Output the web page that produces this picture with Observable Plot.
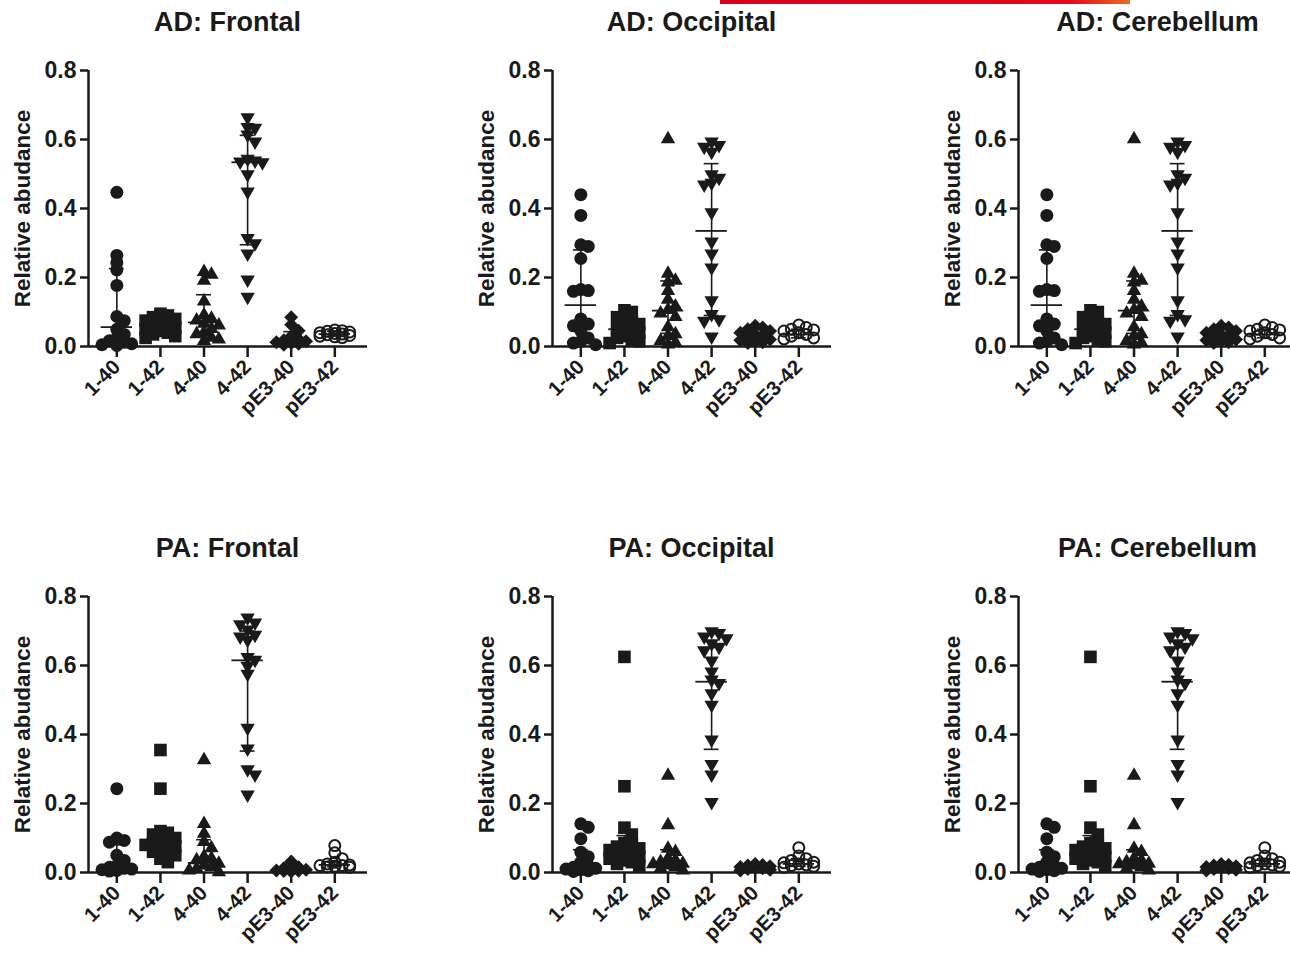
<!DOCTYPE html>
<html>
<head>
<meta charset="utf-8">
<script src="https://cdn.jsdelivr.net/npm/d3@7"></script>
<script src="https://cdn.jsdelivr.net/npm/@observablehq/plot@0.6"></script>
<style>
  html, body { margin: 0; padding: 0; background: #fff; }
  #page { position: relative; width: 1290px; height: 955px; overflow: hidden; background: #fff; font-family: "Liberation Sans", Arial, sans-serif; }
  .title { position: absolute; text-align: center; font-weight: bold; font-size: 27px; line-height: 30px; color: #1a1a1a; }
  .panel { position: absolute; width: 430px; height: 390px; }
  .panel svg { max-width: none !important; overflow: visible; }
  .panel svg text { font-weight: bold; }
  #bar { position: absolute; left: 720px; top: 0; width: 410px; height: 4px; background: linear-gradient(to right, #d8001c 0%, #e3081a 85%, #f06a1e 100%); }
</style>
</head>
<body>
<div id="page"><div id="bar"></div></div>
<script>
// ---------- data ----------
const cats = ["1-40", "1-42", "4-40", "4-42", "pE3-40", "pE3-42"];
const yTicks = [0, 0.2, 0.4, 0.6, 0.8];
const titles = ["AD: Frontal", "AD: Occipital", "AD: Cerebellum", "PA: Frontal", "PA: Occipital", "PA: Cerebellum"];
const yLabel = "Relative abudance";

// AD Frontal
const adFrontal = [
  [0.447, 0.264, 0.243, 0.222, 0.177, 0.087, 0.075, 0.05, 0.035, 0.025, 0.017, 0.012, 0.008, 0.005, 0.003],
  [0.095, 0.09, 0.085, 0.08, 0.075, 0.07, 0.065, 0.06, 0.055, 0.05, 0.045, 0.04, 0.035, 0.03, 0.025],
  [0.22, 0.212, 0.195, 0.135, 0.095, 0.085, 0.08, 0.07, 0.065, 0.055, 0.045, 0.04, 0.03, 0.025, 0.02],
  [0.66, 0.632, 0.63, 0.61, 0.59, 0.54, 0.535, 0.532, 0.53, 0.495, 0.445, 0.31, 0.295, 0.265, 0.19, 0.14],
  [0.085, 0.063, 0.046, 0.03, 0.022, 0.018, 0.015, 0.012, 0.01, 0.008, 0.005],
  [0.048, 0.046, 0.044, 0.042, 0.04, 0.038, 0.036, 0.034, 0.032, 0.03, 0.028, 0.026]
];
const adFrontalMed = [0.056, 0.058, 0.07, 0.534, 0.015, 0.036];
const adFrontalQ1 = [0.01, 0.032, 0.027, 0.295, 0.006, 0.03];
const adFrontalQ3 = [0.226, 0.08, 0.15, 0.612, 0.043, 0.044];

// AD Occipital (Cerebellum panel shows the same values)
const adOccipital = [
  [0.44, 0.38, 0.295, 0.29, 0.255, 0.165, 0.162, 0.16, 0.08, 0.065, 0.06, 0.045, 0.025, 0.015, 0.01, 0.005],
  [0.105, 0.1, 0.085, 0.08, 0.07, 0.065, 0.055, 0.05, 0.045, 0.04, 0.03, 0.025, 0.02, 0.015, 0.01],
  [0.605, 0.215, 0.195, 0.19, 0.165, 0.14, 0.12, 0.11, 0.1, 0.09, 0.06, 0.04, 0.035, 0.02, 0.015, 0.01],
  [0.59, 0.58, 0.575, 0.56, 0.495, 0.485, 0.47, 0.465, 0.385, 0.3, 0.265, 0.225, 0.13, 0.09, 0.075, 0.07, 0.025],
  [0.06, 0.055, 0.05, 0.045, 0.04, 0.035, 0.03, 0.025, 0.02, 0.018, 0.015, 0.012, 0.01],
  [0.062, 0.055, 0.05, 0.048, 0.045, 0.04, 0.035, 0.03, 0.025, 0.022]
];
const adOccipitalMed = [0.12, 0.05, 0.104, 0.335, 0.025, 0.035];
const adOccipitalQ1 = [0.015, 0.02, 0.038, 0.09, 0.015, 0.025];
const adOccipitalQ3 = [0.28, 0.08, 0.19, 0.53, 0.04, 0.05];

// PA Frontal
const paFrontal = [
  [0.243, 0.1, 0.093, 0.088, 0.05, 0.035, 0.02, 0.015, 0.012, 0.01, 0.008, 0.006, 0.004],
  [0.355, 0.243, 0.12, 0.115, 0.11, 0.1, 0.095, 0.09, 0.085, 0.08, 0.075, 0.07, 0.065, 0.06, 0.05, 0.04, 0.03],
  [0.33, 0.145, 0.117, 0.093, 0.075, 0.05, 0.045, 0.04, 0.03, 0.025, 0.02, 0.015, 0.01, 0.005],
  [0.735, 0.72, 0.715, 0.70, 0.685, 0.68, 0.67, 0.62, 0.612, 0.595, 0.572, 0.415, 0.355, 0.295, 0.28, 0.222],
  [0.032, 0.015, 0.012, 0.01, 0.008, 0.006, 0.005, 0.004, 0.003],
  [0.078, 0.057, 0.04, 0.03, 0.025, 0.022, 0.02, 0.02, 0.018, 0.016, 0.015]
];
const paFrontalMed = [0.012, 0.082, 0.028, 0.615, 0.006, 0.022];
const paFrontalQ1 = [0.005, 0.05, 0.012, 0.352, 0.003, 0.017];
const paFrontalQ3 = [0.08, 0.11, 0.095, 0.70, 0.025, 0.03];

// PA Occipital (Cerebellum panel shows the same values)
const paOccipital = [
  [0.141, 0.131, 0.098, 0.059, 0.046, 0.03, 0.02, 0.015, 0.012, 0.01, 0.008, 0.005, 0.003],
  [0.625, 0.25, 0.13, 0.11, 0.085, 0.08, 0.075, 0.07, 0.065, 0.06, 0.055, 0.05, 0.045, 0.04, 0.035, 0.03, 0.025, 0.02],
  [0.285, 0.141, 0.073, 0.064, 0.045, 0.04, 0.035, 0.03, 0.028, 0.025, 0.02, 0.015, 0.01],
  [0.695, 0.69, 0.68, 0.675, 0.66, 0.65, 0.64, 0.61, 0.578, 0.555, 0.545, 0.515, 0.482, 0.381, 0.31, 0.28, 0.2],
  [0.025, 0.022, 0.02, 0.018, 0.016, 0.014, 0.012, 0.01, 0.008, 0.006],
  [0.072, 0.048, 0.04, 0.035, 0.03, 0.028, 0.025, 0.022, 0.02, 0.018, 0.015]
];
const paOccipitalMed = [0.012, 0.057, 0.03, 0.553, 0.012, 0.025];
const paOccipitalQ1 = [0.005, 0.025, 0.015, 0.357, 0.008, 0.018];
const paOccipitalQ3 = [0.066, 0.107, 0.066, 0.652, 0.018, 0.04];

// ---------- rendering ----------
const ink = "#1a1a1a";
const panels = [
  [adFrontal, adFrontalMed, adFrontalQ1, adFrontalQ3],
  [adOccipital, adOccipitalMed, adOccipitalQ1, adOccipitalQ3],
  [adOccipital, adOccipitalMed, adOccipitalQ1, adOccipitalQ3],
  [paFrontal, paFrontalMed, paFrontalQ1, paFrontalQ3],
  [paOccipital, paOccipitalMed, paOccipitalQ1, paOccipitalQ3],
  [paOccipital, paOccipitalMed, paOccipitalQ1, paOccipitalQ3]
];

const symbols = [
  {draw(c) { c.moveTo(6.5, 0); c.arc(0, 0, 6.5, 0, 2 * Math.PI); }},
  {draw(c) { c.moveTo(-6.3, -6.3); c.lineTo(6.3, -6.3); c.lineTo(6.3, 6.3); c.lineTo(-6.3, 6.3); c.closePath(); }},
  {draw(c) { c.moveTo(0, -7); c.lineTo(7.2, 5.5); c.lineTo(-7.2, 5.5); c.closePath(); }},
  {draw(c) { c.moveTo(0, 7); c.lineTo(7.2, -5.5); c.lineTo(-7.2, -5.5); c.closePath(); }},
  {draw(c) { c.moveTo(0, -7); c.lineTo(7, 0); c.lineTo(0, 7); c.lineTo(-7, 0); c.closePath(); }},
  {draw(c) { c.moveTo(5.5, 0); c.arc(0, 0, 5.5, 0, 2 * Math.PI); }}
];

const W = 430, H = 390, ML = 88, MR = 63, MT = 30, MB = 84;
const xDomain = [-0.65, 5.75];
const pxPerX = (W - ML - MR) / (xDomain[1] - xDomain[0]);
const pxPerY = (H - MT - MB) / 0.8;

// simple symmetric scatter spread (GraphPad-like) computed from the values
function swarm(values, ci) {
  const step = 0.17, minD = 7, slots = [0, 1, -1, 2, -2];
  const placed = [];
  const sorted = values.slice().sort((a, b) => b - a);
  for (const v of sorted) {
    let best = 0, bestScore = -1;
    for (const s of slots) {
      const off = s * step;
      let dmin = Infinity;
      for (const p of placed) {
        dmin = Math.min(dmin, Math.hypot((p.off - off) * pxPerX, (p.v - v) * pxPerY));
      }
      if (dmin >= minD) { best = off; bestScore = Infinity; break; }
      if (dmin > bestScore) { bestScore = dmin; best = off; }
    }
    placed.push({v, off: best});
  }
  return placed.map(p => ({cat: ci, x: ci + p.off, y: p.v}));
}

const colLefts = [0, 464, 930];
const rowTops = [0, 526];
const page = document.getElementById("page");

panels.forEach(([groups, med, q1, q3], k) => {
  const left = colLefts[k % 3], top = rowTops[Math.floor(k / 3)];
  const points = groups.flatMap((vals, i) => swarm(vals, i));
  const stats = cats.map((c, i) => ({i, med: med[i], q1: q1[i], q3: q3[i]}));

  const marks = [];
  symbols.forEach((s, i) => {
    const open = i === 5;
    marks.push(Plot.dot(points.filter(p => p.cat === i), {
      x: "x", y: "y", symbol: s,
      fill: open ? "none" : ink, stroke: open ? ink : "none", strokeWidth: open ? 2 : 0
    }));
  });
  marks.push(
    Plot.ruleX(stats, {x: "i", y1: "q1", y2: "q3", stroke: ink, strokeWidth: 1.6}),
    Plot.ruleY(stats, {y: "med", x1: d => d.i - 0.36, x2: d => d.i + 0.36, stroke: ink, strokeWidth: 1.8}),
    Plot.ruleY(stats, {y: "q1", x1: d => d.i - 0.17, x2: d => d.i + 0.17, stroke: ink, strokeWidth: 1.6}),
    Plot.ruleY(stats, {y: "q3", x1: d => d.i - 0.17, x2: d => d.i + 0.17, stroke: ink, strokeWidth: 1.6}),
    Plot.ruleX([xDomain[0]], {stroke: ink, strokeWidth: 2.5}),
    Plot.ruleY([0], {stroke: ink, strokeWidth: 2.5}),
    Plot.axisX(d3.range(cats.length), {
      tickFormat: i => cats[i], tickRotate: -45, tickSize: 11, tickPadding: 6,
      fontSize: 20.5, fontWeight: "bold", strokeWidth: 2.5, label: null, color: ink
    }),
    Plot.axisY(yTicks, {
      tickFormat: d => d.toFixed(1), tickSize: 8, tickPadding: 4,
      fontSize: 23, fontWeight: "bold", strokeWidth: 2.5, label: null, color: ink
    }),
    Plot.text([yLabel], {
      frameAnchor: "left", dx: -66, rotate: -90, textAnchor: "middle", lineAnchor: "middle",
      fontSize: 22.5, fontWeight: "bold", fill: ink, text: d => d
    })
  );

  const chart = Plot.plot({
    width: W, height: H,
    marginLeft: ML, marginRight: MR, marginTop: MT, marginBottom: MB,
    x: {type: "linear", domain: xDomain, axis: null},
    y: {type: "linear", domain: [0, 0.8], axis: null},
    style: {fontFamily: "'Liberation Sans', Arial, sans-serif", color: ink, background: "transparent", overflow: "visible", maxWidth: "none"},
    marks
  });

  const t = document.createElement("div");
  t.className = "title";
  t.textContent = titles[k];
  t.style.left = (left + ML - 30) + "px";
  t.style.width = (W - ML - MR + 60) + "px";
  t.style.top = (top + 7) + "px";
  page.appendChild(t);

  const p = document.createElement("div");
  p.className = "panel";
  p.style.left = left + "px";
  p.style.top = (top + 40) + "px";
  p.appendChild(chart);
  page.appendChild(p);
});
</script>
</body>
</html>
